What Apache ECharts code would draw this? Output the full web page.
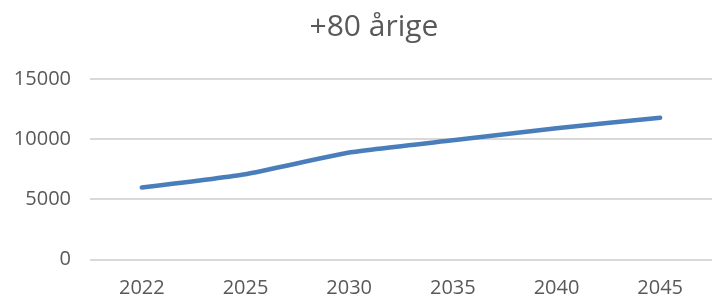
<!DOCTYPE html>
<html>
<head>
<meta charset="utf-8">
<script src="https://cdn.jsdelivr.net/npm/echarts@6/dist/echarts.min.js"></script>
<style>
    html, body { margin: 0; padding: 0; background: #fff; }
    #chart { width: 712px; height: 300px; }
</style>
</head>
<body>
<div id="chart"></div>
<script>
    // data
    var years = ["2022", "2025", "2030", "2035", "2040", "2045"];
    var values = [5970, 7080, 8880, 9900, 10900, 11780];
    var titleText = "+80 årige";

    var chart = echarts.init(document.getElementById("chart"));
    chart.setOption({
        animation: false,
        title: {
            text: titleText,
            left: 369,
            top: 7,
            textAlign: "center",
            textStyle: {
                fontFamily: "Open Sans",
                fontSize: 30,
                fontWeight: "normal",
                color: "#595959"
            }
        },
        grid: { left: 90, right: -3, top: 79, bottom: 40.7 },
        xAxis: {
            type: "category",
            data: years,
            boundaryGap: true,
            axisLine: { show: false },
            axisTick: { show: false },
            axisLabel: {
                margin: 19,
                fontFamily: "Open Sans",
                fontSize: 20,
                color: "#595959"
            }
        },
        yAxis: {
            type: "value",
            min: 0,
            max: 15000,
            interval: 5000,
            axisLabel: {
                margin: 19,
                fontFamily: "Open Sans",
                fontSize: 20,
                color: "#595959",
                formatter: function (v) { return String(v); }
            },
            splitLine: { lineStyle: { color: "#d9d9d9", width: 2 } }
        },
        series: [{
            type: "line",
            data: values,
            smooth: 0.15,
            symbol: "none",
            lineStyle: { color: "#4a7ebb", width: 4.5, cap: "round", join: "round" }
        }]
    });
</script>
</body>
</html>
